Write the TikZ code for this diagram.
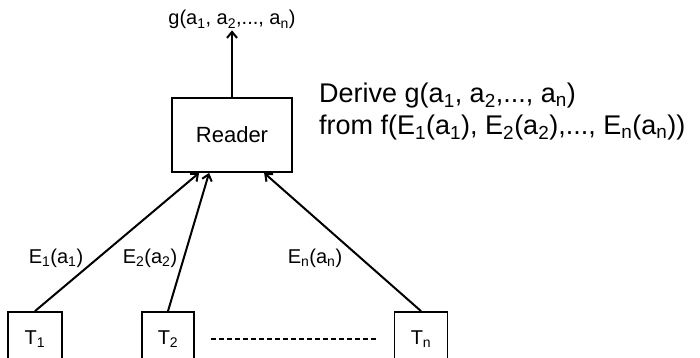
\documentclass[tikz,border=0pt]{standalone}
\usepackage{fontspec}
\setmainfont{Liberation Sans}
\usetikzlibrary{calc,arrows.meta}
\newcommand{\ix}[1]{\textsubscript{#1}}
\begin{document}
\begin{tikzpicture}[x=1pt,y=-1pt,
        box/.style = {draw, line width=1.8pt,
            inner sep=0pt},
        flow/.style = {line width=2pt,
            -{Straight Barb[length=6pt,width=10pt]}},
        txt/.style = {font=\fontsize{20}{24}\selectfont},
        big/.style = {anchor=base west, inner sep=0pt,
            font=\fontsize{27}{32}\selectfont}]

    \useasboundingbox (0,0) rectangle (700,358);

    % Reader
    \node[box, minimum width=120, minimum height=74,
        font=\fontsize{22}{26}\selectfont] (reader) at (232,135) {Reader};

    % Output
    \node[txt, inner sep=1pt, anchor=base] (out) at (232,25) {g(a\ix{1}, a\ix{2},..., a\ix{n})};
    \draw[flow] (reader.north) -- (out.south);

    % Note
    \node[big] (note1) at (319,103) {Derive g(a\ix{1}, a\ix{2},..., a\ix{n})};
    \node[big] (note2) at (319,135) {from f(E\ix{1}(a\ix{1}), E\ix{2}(a\ix{2}),..., E\ix{n}(a\ix{n}))};

    % Tasks
    \node[box, minimum width=54, minimum height=54, txt] (t1) at (35,339) {T\ix{1}};
    \node[box, minimum width=52, minimum height=54, txt] (t2) at (168,339) {T\ix{2}};
    \node[box, minimum width=53, minimum height=54, txt] (tn) at (421,339) {T\ix{n}};

    % Links
    \draw[flow] (t1.north) -- ($(reader.south west)+(28,0)$);
    \draw[flow] (t2.north) -- ($(reader.south west)+(38,0)$);
    \draw[flow] (tn.north) -- ($(reader.south west)+(93,0)$);
    \draw[line width=1.2pt, dash pattern=on 5pt off 3pt,
        shorten <=16pt, shorten >=18pt] (t2.east) -- (tn.west);

    % Link labels
    \node[txt] (e1) at (56,258) {E\ix{1}(a\ix{1})};
    \node[txt] (e2) at (150,258) {E\ix{2}(a\ix{2})};
    \node[txt] (en) at (315,258) {E\ix{n}(a\ix{n})};

\end{tikzpicture}
\end{document}
